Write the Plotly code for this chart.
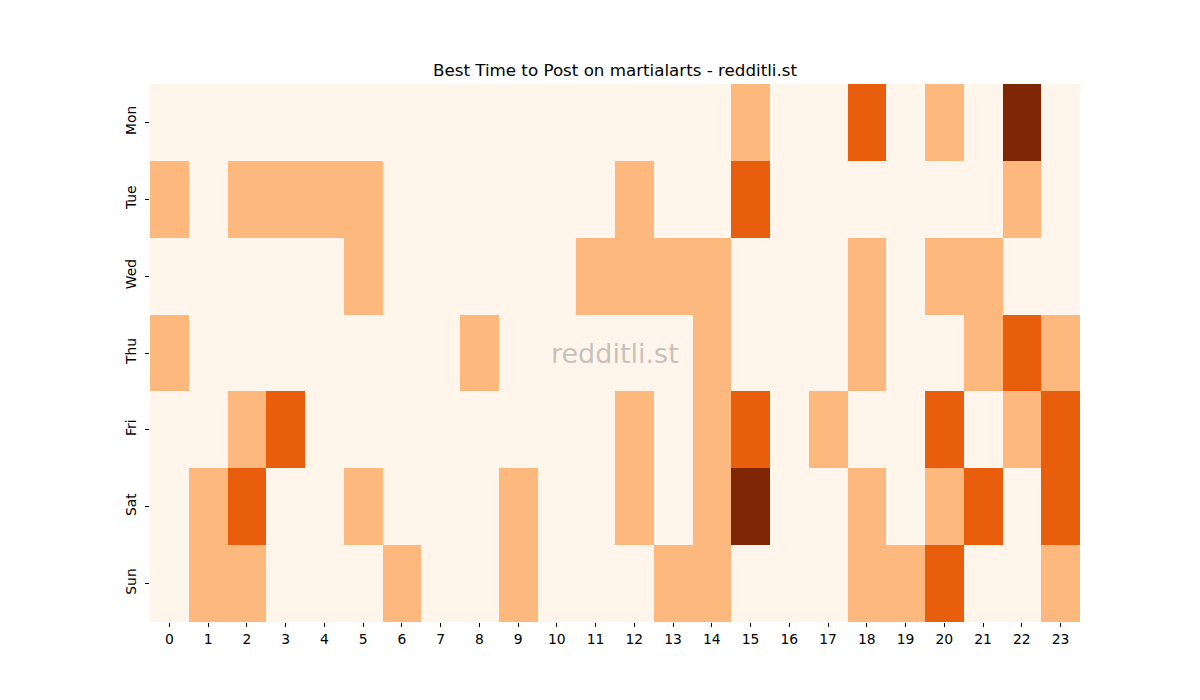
import plotly.graph_objects as go

days = ["Mon", "Tue", "Wed", "Thu", "Fri", "Sat", "Sun"]
hours = list(range(24))

mon = [0,0,0,0,0,0,0,0,0,0,0,0,0,0,0,1,0,0,2,0,1,0,3,0]
tue = [1,0,1,1,1,1,0,0,0,0,0,0,1,0,0,2,0,0,0,0,0,0,1,0]
wed = [0,0,0,0,0,1,0,0,0,0,0,1,1,1,1,0,0,0,1,0,1,1,0,0]
thu = [1,0,0,0,0,0,0,0,1,0,0,0,0,0,1,0,0,0,1,0,0,1,2,1]
fri = [0,0,1,2,0,0,0,0,0,0,0,0,1,0,1,2,0,1,0,0,2,0,1,2]
sat = [0,1,2,0,0,1,0,0,0,1,0,0,1,0,1,3,0,0,1,0,1,2,0,2]
sun = [0,1,1,0,0,0,1,0,0,1,0,0,0,1,1,0,0,0,1,1,2,0,0,1]

z = [mon, tue, wed, thu, fri, sat, sun]

c0, c1, c2, c3 = "#fff5eb", "#fdb87d", "#e95e0d", "#7f2704"
colorscale = [[0.0, c0], [1/6, c0], [1/6, c1], [0.5, c1], [0.5, c2], [5/6, c2], [5/6, c3], [1.0, c3]]

fig = go.Figure(go.Heatmap(
    z=z, x=hours, y=days, zmin=0, zmax=3,
    colorscale=colorscale, showscale=False, xgap=0, ygap=0,
))

font = "DejaVu Sans"
fig.update_layout(
    width=1200, height=700,
    margin=dict(l=150, r=120, t=84, b=78),
    paper_bgcolor="white", plot_bgcolor="white",
    font=dict(family=font, size=14, color="black"),
    title=dict(text="Best Time to Post on martialarts - redditli.st",
               x=0.5125, xanchor="center", y=1 - 70/700, yanchor="middle",
               font=dict(family=font, size=16.7, color="black")),
    xaxis=dict(tickmode="array", tickvals=hours, ticktext=[str(h) for h in hours],
               ticks="outside", ticklen=4, tickcolor="black", showgrid=False,
               zeroline=False, showline=False, tickfont=dict(size=13.9)),
    yaxis=dict(autorange="reversed", ticks="outside", ticklen=4, tickcolor="black",
               showgrid=False, zeroline=False, showline=False,
               tickangle=-90, tickfont=dict(size=13.9), ticklabelstandoff=3),
    annotations=[dict(text="redditli.st", x=0.5, y=0.5, xref="paper", yref="paper",
                      showarrow=False, font=dict(family=font, size=27, color="rgba(128,128,128,0.45)"))],
)

fig.write_html("out.html")
